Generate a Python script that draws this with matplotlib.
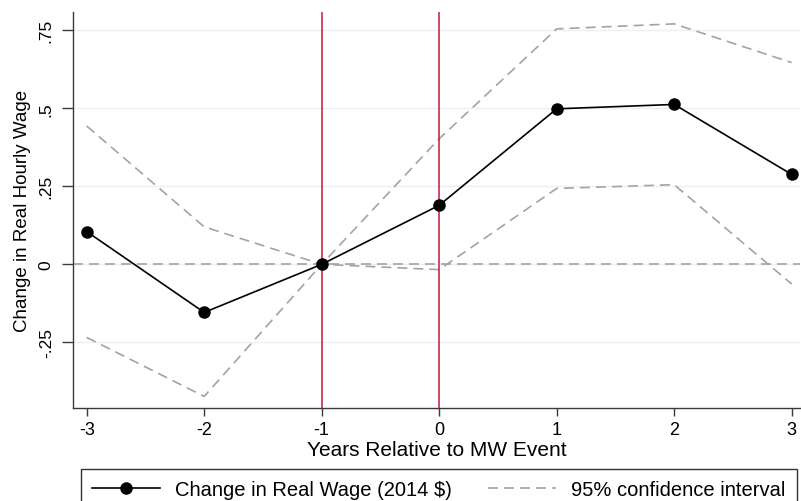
import matplotlib
matplotlib.use("Agg")
import matplotlib.pyplot as plt
from matplotlib.lines import Line2D

plt.rcParams['font.family'] = ['Liberation Sans', 'DejaVu Sans']
plt.rcParams['axes.unicode_minus'] = False

years = [-3, -2, -1, 0, 1, 2, 3]
estimate = [0.105, -0.154, 0.0, 0.189, 0.498, 0.512, 0.288]
ci_upper = [0.443, 0.120, 0.0, 0.402, 0.754, 0.770, 0.646]
ci_lower = [-0.234, -0.423, 0.0, -0.017, 0.243, 0.255, -0.063]
event_lines = [-1, 0]
yticks = [-0.25, 0, 0.25, 0.5, 0.75]
ytick_labels = ["-.25", "0", ".25", ".5", ".75"]
xticks = [-3, -2, -1, 0, 1, 2, 3]
xtick_labels = ["-3", "-2", "-1", "0", "1", "2", "3"]
label_est = "Change in Real Wage (2014 $)"
label_ci = "95% confidence interval"

W, H = 801, 502
fig = plt.figure(figsize=(W / 100, H / 100), dpi=100)
left_px, right_px, top_px, bottom_px = 73.3, 800, 12.7, 409.3
ax = fig.add_axes([left_px / W, 1 - bottom_px / H, (right_px - left_px) / W, (bottom_px - top_px) / H])

ax.set_xlim(-3.114, 3.071)
ax.set_ylim(-0.461, 0.809)

gray = '#a3a3a3'
red = '#c8143c'
dash = (6, 3.6)

for yv in yticks:
    ax.axhline(yv, color='#eaf1f3', lw=1.0, zorder=0)

ax.plot(years, ci_upper, color=gray, lw=1.2, dashes=dash, zorder=2)
ax.plot(years, ci_lower, color=gray, lw=1.2, dashes=dash, zorder=2)
ax.axhline(0, color=gray, lw=1.2, dashes=dash, zorder=2)
for xv in event_lines:
    ax.axvline(xv, color=red, lw=1.1, zorder=3)
ax.plot(years, estimate, color='black', lw=1.2, marker='o', markersize=8, zorder=4)

for s in ['top', 'right']:
    ax.spines[s].set_visible(False)
for s in ['left', 'bottom']:
    ax.spines[s].set_color('#3a3a3a')
    ax.spines[s].set_linewidth(1.0)

ax.set_yticks(yticks)
ax.set_yticklabels(ytick_labels, rotation=90, va='center', fontsize=12.5)
ax.set_xticks(xticks)
ax.set_xticklabels(xtick_labels, fontsize=13)
ax.tick_params(axis='y', length=8, width=1, color='#3a3a3a', pad=6)
ax.tick_params(axis='x', length=6, width=1, color='#3a3a3a', pad=3.5)

ax.set_xlabel("Years Relative to MW Event", fontsize=15, labelpad=1)
ax.set_ylabel("Change in Real Hourly Wage", fontsize=13.5, labelpad=6)

h1 = Line2D([], [], color='black', lw=1.2, marker='o', markersize=8)
h2 = Line2D([], [], color=gray, lw=1.2, dashes=dash)
x0 = 80.7 / W
x1 = 796.7 / W
top = 1 - 470 / H
leg = fig.legend([h1, h2], [label_est, label_ci], loc='upper left',
                 bbox_to_anchor=(x0, top - 0.1, x1 - x0, 0.1), mode='expand',
                 ncol=2, fontsize=14.5, frameon=True, fancybox=False,
                 edgecolor='black', handlelength=3.4, handletextpad=0.75,
                 borderaxespad=0, borderpad=0.55, numpoints=1)
leg.get_frame().set_linewidth(1.0)

fig.savefig("out.png", dpi=100)
